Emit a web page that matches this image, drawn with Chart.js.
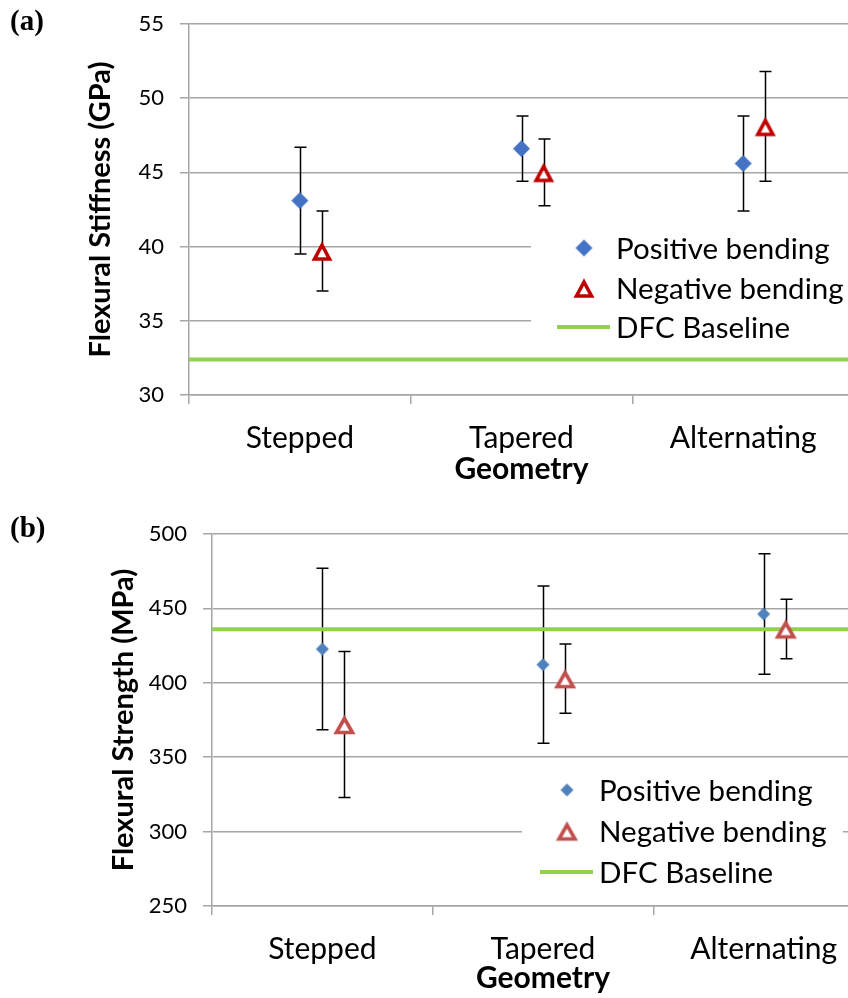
<!DOCTYPE html>
<html>
<head>
<meta charset="utf-8">
<title>Flexural stiffness and strength by geometry</title>
<script src="https://cdn.jsdelivr.net/npm/chart.js@4.4.1/dist/chart.umd.min.js"></script>
<style>
  html, body { margin: 0; padding: 0; background: #fff; overflow: hidden; width: 848px; height: 998px; position: relative; }
  .panel { position: absolute; left: 0; }
  #panelA { top: -10px; }
  #panelB { top: 500px; }
  .tag { position: absolute; left: 10px; font: bold 29px "Liberation Serif", "DejaVu Serif", serif; line-height: 29px; color: #000; z-index: 2; }
</style>
</head>
<body>
<div class="tag" style="top:6px">(a)</div>
<div class="tag" style="top:513px">(b)</div>
<div class="panel" id="panelA"><canvas id="chartA" width="870" height="508"></canvas></div>
<div class="panel" id="panelB"><canvas id="chartB" width="890" height="498"></canvas></div>
<script>
// ---- data ----
const categories = ['Stepped', 'Tapered', 'Alternating'];
const seriesLabels = ['Positive bending', 'Negative bending', 'DFC Baseline'];

// Flexural stiffness (GPa): mean and +/- error
const stiffnessPositive = [43.1, 46.6, 45.6];
const stiffnessPositiveErr = [3.6, 2.2, 3.2];
const stiffnessNegative = [39.7, 45.0, 48.1];
const stiffnessNegativeErr = [2.7, 2.25, 3.7];
const stiffnessBaseline = [32.4];
const stiffnessTicks = [30, 35, 40, 45, 50, 55];

// Flexural strength (MPa): mean and +/- error
const strengthPositive = [422.7, 412.2, 446.2];
const strengthPositiveErr = [54.3, 52.9, 40.5];
const strengthNegative = [372.0, 402.8, 436.2];
const strengthNegativeErr = [49.0, 23.2, 20.0];
const strengthBaseline = [436];
const strengthTicks = [250, 300, 350, 400, 450, 500];

// ---- styling helpers ----
const FONT = 'Lato';
const GRID = '#A6A6A6';
const GREEN = '#92D050';
const X_MIN = 0.5, X_MAX = 3.5;
const NEG_SHIFT = 0.1;   // negative-bending markers sit just right of each category centre

function diamondMarker(color, half) {
  const c = document.createElement('canvas');
  c.width = c.height = half * 2 + 2;
  const g = c.getContext('2d');
  const m = half + 1;
  g.fillStyle = color;
  g.beginPath();
  g.moveTo(m, m - half); g.lineTo(m + half, m); g.lineTo(m, m + half); g.lineTo(m - half, m);
  g.closePath(); g.fill();
  return c;
}

function triangleMarker(color, w, h, lw) {
  const c = document.createElement('canvas');
  const size = Math.ceil(Math.max(w, h) + lw * 3);
  c.width = c.height = size;
  const g = c.getContext('2d');
  const cx = size / 2, cy = size / 2 + 1;
  g.beginPath();
  g.moveTo(cx, cy - h / 2);
  g.lineTo(cx + w / 2, cy + h / 2);
  g.lineTo(cx - w / 2, cy + h / 2);
  g.closePath();
  g.fillStyle = '#fff'; g.fill();
  g.lineJoin = 'miter';
  g.lineWidth = lw; g.strokeStyle = color; g.stroke();
  return c;
}

// error bars drawn beneath the markers
const errorBars = {
  id: 'errorBars',
  beforeDatasetsDraw(chart) {
    const { ctx, scales: { x, y } } = chart;
    ctx.save();
    ctx.strokeStyle = '#000';
    ctx.lineWidth = 1.5;
    chart.data.datasets.forEach(ds => {
      if (!ds.errors) return;
      ds.data.forEach((p, i) => {
        const px = Math.round(x.getPixelForValue(p.x)) + 0.5;
        const yt = y.getPixelForValue(p.y + ds.errors[i]);
        const yb = y.getPixelForValue(p.y - ds.errors[i]);
        ctx.beginPath();
        ctx.moveTo(px, yt); ctx.lineTo(px, yb);
        ctx.moveTo(px - 6, yt); ctx.lineTo(px + 6, yt);
        ctx.moveTo(px - 6, yb); ctx.lineTo(px + 6, yb);
        ctx.stroke();
      });
    });
    ctx.restore();
  }
};

// legend box laid over the plot area
const insideLegend = {
  id: 'insideLegend',
  afterDatasetsDraw(chart, args, o) {
    const { ctx } = chart;
    const ds = chart.data.datasets;
    ctx.save();
    ctx.fillStyle = '#fff';
    ctx.fillRect(o.box[0], o.box[1], o.box[2] - o.box[0], o.box[3] - o.box[1]);
    ctx.font = o.fontSize + 'px ' + FONT;
    ctx.textBaseline = 'middle';
    ctx.textAlign = 'left';
    ctx.fillStyle = '#000';
    ds.forEach((d, i) => {
      const yy = o.rows[i];
      if (d.pointStyle && typeof d.pointStyle === 'object') {
        const img = d.pointStyle;
        ctx.drawImage(img, o.markerX - img.width / 2, yy - img.height / 2);
      } else {
        ctx.strokeStyle = d.borderColor;
        ctx.lineWidth = d.borderWidth;
        ctx.beginPath();
        ctx.moveTo(o.lineX[0], yy); ctx.lineTo(o.lineX[1], yy);
        ctx.stroke();
      }
      ctx.fillText(d.label, o.textX, yy + 1);
    });
    ctx.restore();
  }
};

function buildChart(id, cfg) {
  const markerPos = diamondMarker(cfg.posColor, cfg.diamondHalf);
  const markerNeg = triangleMarker(cfg.negColor, cfg.triW, cfg.triH, cfg.triLw);
  return new Chart(document.getElementById(id), {
    type: 'scatter',
    data: {
      datasets: [
        {
          label: seriesLabels[0],
          data: cfg.pos.map((v, i) => ({ x: i + 1, y: v })),
          errors: cfg.posErr,
          pointStyle: markerPos, pointRadius: 8, pointHoverRadius: 8,
          showLine: false, order: 0
        },
        {
          label: seriesLabels[1],
          data: cfg.neg.map((v, i) => ({ x: i + 1 + NEG_SHIFT, y: v })),
          errors: cfg.negErr,
          pointStyle: markerNeg, pointRadius: 10, pointHoverRadius: 10,
          showLine: false, order: 1
        },
        {
          label: seriesLabels[2],
          type: 'line',
          data: [{ x: X_MIN, y: cfg.baseline[0] }, { x: X_MAX, y: cfg.baseline[0] }],
          borderColor: GREEN, borderWidth: 4, pointRadius: 0,
          fill: false, order: 2
        }
      ]
    },
    options: {
      responsive: false,
      animation: false,
      events: [],
      layout: { autoPadding: false, padding: { top: cfg.padTop, right: 6, left: 0, bottom: 0 } },
      plugins: {
        legend: { display: false },
        tooltip: { enabled: false },
        insideLegend: cfg.legend
      },
      scales: {
        x: {
          type: 'linear',
          min: X_MIN, max: X_MAX,
          afterFit: s => { s.height = cfg.xHeight; },
          afterBuildTicks: s => { s.ticks = [0.5, 1, 1.5, 2, 2.5, 3, 3.5].map(v => ({ value: v })); },
          ticks: {
            autoSkip: false, maxRotation: 0, padding: 16,
            color: '#000',
            font: { family: FONT, size: 30 },
            callback: v => Number.isInteger(v) ? categories[v - 1] : ''
          },
          grid: {
            drawOnChartArea: false, tickLength: 9, lineWidth: 1.5,
            tickColor: c => (c.tick && Number.isInteger(c.tick.value)) ? 'rgba(0,0,0,0)' : GRID
          },
          border: { color: GRID, width: 1.5 },
          title: {
            display: true, text: 'Geometry', color: '#000',
            font: { family: FONT, size: 30, weight: 'bold', lineHeight: 1.2 },
            padding: { top: 0, bottom: cfg.titleBottom }
          }
        },
        y: {
          min: cfg.ticks[0], max: cfg.ticks[cfg.ticks.length - 1],
          afterFit: s => { s.width = cfg.yWidth; },
          afterBuildTicks: s => { s.ticks = cfg.ticks.map(v => ({ value: v })); },
          ticks: { color: '#000', padding: 16, font: { family: FONT, size: 22 } },
          grid: { color: GRID, lineWidth: 1.5, tickLength: 9 },
          border: { color: GRID, width: 1.5 },
          title: {
            display: true, text: cfg.yTitle, color: '#000',
            font: { family: FONT, size: 29, weight: 'bold', lineHeight: 1.2 },
            padding: { top: cfg.yTitlePad, bottom: 0 }
          }
        }
      }
    },
    plugins: [errorBars, insideLegend]
  });
}

buildChart('chartA', {
  pos: stiffnessPositive, posErr: stiffnessPositiveErr,
  neg: stiffnessNegative, negErr: stiffnessNegativeErr,
  baseline: stiffnessBaseline, ticks: stiffnessTicks,
  yTitle: 'Flexural Stiffness (GPa)',
  posColor: '#4472C4', negColor: '#C00000',
  diamondHalf: 8.5, triW: 15, triH: 14, triLw: 3.6,
  padTop: 34, xHeight: 103, yWidth: 189, yTitlePad: 83, titleBottom: 11,
  legend: { box: [531, 238, 870, 355], rows: [258, 298, 337], markerX: 584, lineX: [557, 610], textX: 616, fontSize: 29.5 }
});

buildChart('chartB', {
  pos: strengthPositive, posErr: strengthPositiveErr,
  neg: strengthNegative, negErr: strengthNegativeErr,
  baseline: strengthBaseline, ticks: strengthTicks,
  yTitle: 'Flexural Strength (MPa)',
  posColor: '#4F81BD', negColor: '#C0504D',
  diamondHalf: 6.5, triW: 16, triH: 14, triLw: 3.6,
  padTop: 34, xHeight: 92, yWidth: 212, yTitlePad: 106, titleBottom: 2,
  legend: { box: [522, 270, 843, 390], rows: [290, 331, 372], markerX: 567, lineX: [540, 593], textX: 599, fontSize: 29.5 }
});
</script>
</body>
</html>
